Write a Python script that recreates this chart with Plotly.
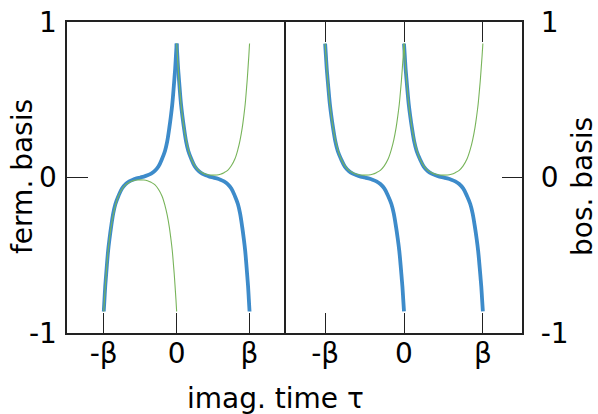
import plotly.graph_objects as go

# imaginary time in units of beta, over one period [0, beta]
tau = [0.0, 0.01, 0.02, 0.03, 0.04, 0.06, 0.08, 0.10, 0.13, 0.16, 0.20, 0.25, 0.30, 0.35, 0.40, 0.45, 0.50,
       0.55, 0.60, 0.65, 0.70, 0.75, 0.80, 0.84, 0.87, 0.90, 0.92, 0.94, 0.96, 0.97, 0.98, 0.99, 1.0]
# thick (odd) basis function on [0, beta]
basis_odd = [0.86, 0.78, 0.70, 0.64, 0.58, 0.47, 0.39, 0.32, 0.23, 0.17, 0.12, 0.07, 0.042, 0.025, 0.014, 0.006, 0.0,
             -0.006, -0.014, -0.025, -0.042, -0.07, -0.12, -0.17, -0.23, -0.32, -0.39, -0.47, -0.58, -0.64, -0.70, -0.78, -0.86]
# thin (even) basis function on [0, beta]
basis_even = [0.86, 0.78, 0.71, 0.64, 0.58, 0.47, 0.39, 0.32, 0.24, 0.18, 0.12, 0.075, 0.046, 0.031, 0.021, 0.016, 0.015,
              0.016, 0.021, 0.031, 0.046, 0.075, 0.12, 0.18, 0.24, 0.32, 0.39, 0.47, 0.58, 0.64, 0.71, 0.78, 0.86]

x_ticks = [-1, 0, 1]
x_labels = ["-β", "0", "β"]
y_ticks = [-1, 0, 1]
y_labels = ["-1", "0", "1"]

BLUE = "#3d8bca"
GREEN = "#78b45a"
FONT = dict(family="DejaVu Sans", size=28, color="black")

fig = go.Figure()

def seg(xs, ys, color, width, xa, ya):
    fig.add_trace(go.Scatter(x=xs, y=ys, mode="lines", line=dict(color=color, width=width, shape="spline"),
                             xaxis=xa, yaxis=ya, showlegend=False, hoverinfo="skip"))

prev = [t - 1 for t in tau]
# fermionic panel: antiperiodic continuation
seg(prev, [-v for v in basis_odd], BLUE, 3.8, "x", "y")
seg(tau, basis_odd, BLUE, 3.8, "x", "y")
seg(prev, [-v for v in basis_even], GREEN, 1.1, "x", "y")
seg(tau, basis_even, GREEN, 1.1, "x", "y")
# bosonic panel: periodic continuation
seg(prev, basis_odd, BLUE, 3.8, "x2", "y2")
seg(tau, basis_odd, BLUE, 3.8, "x2", "y2")
seg(prev, basis_even, GREEN, 1.1, "x2", "y2")
seg(tau, basis_even, GREEN, 1.1, "x2", "y2")

W, H = 598, 414
ydom = [(H - 333.3) / H, (H - 21.7) / H]
common_x = dict(range=[-1.5, 1.5], tickvals=x_ticks, ticktext=x_labels, ticks="inside", ticklen=21,
                tickwidth=1, tickcolor="#222", showline=True, linecolor="#222", linewidth=1.5,
                showgrid=False, zeroline=False, tickfont=FONT, ticklabelstandoff=-6, automargin=False)
common_y = dict(range=[-1, 1], tickvals=y_ticks, ticktext=y_labels, ticks="inside", ticklen=21,
                tickwidth=1, tickcolor="#222", showline=True, linecolor="#222", linewidth=1.5,
                showgrid=False, zeroline=False, tickfont=FONT, domain=ydom, automargin=False)

fig.update_layout(
    width=W, height=H, margin=dict(l=0, r=0, t=0, b=0, autoexpand=False),
    paper_bgcolor="white", plot_bgcolor="white", font=FONT,
    xaxis=dict(common_x, domain=[67.3 / W, 286 / W], mirror=True, anchor="y"),
    xaxis2=dict(common_x, domain=[285.7 / W, 522.3 / W], mirror="ticks", anchor="y2"),
    yaxis=dict(common_y, anchor="x", mirror=True, ticklabelstandoff=3),
    yaxis2=dict(common_y, anchor="x2", side="right", mirror=True, ticklabelstandoff=11),
    annotations=[
        dict(text="ferm. basis", x=22 / W, y=(H - 177) / H, xref="paper", yref="paper", textangle=-90,
             showarrow=False, font=FONT, xanchor="center", yanchor="middle"),
        dict(text="bos. basis", x=582 / W, y=(H - 187) / H, xref="paper", yref="paper", textangle=-90,
             showarrow=False, font=FONT, xanchor="center", yanchor="middle"),
        dict(text="imag. time τ", x=275.5 / W, y=(H - 398) / H, xref="paper", yref="paper",
             showarrow=False, font=FONT, xanchor="center", yanchor="middle"),
    ],
)

fig.write_html("out.html")
